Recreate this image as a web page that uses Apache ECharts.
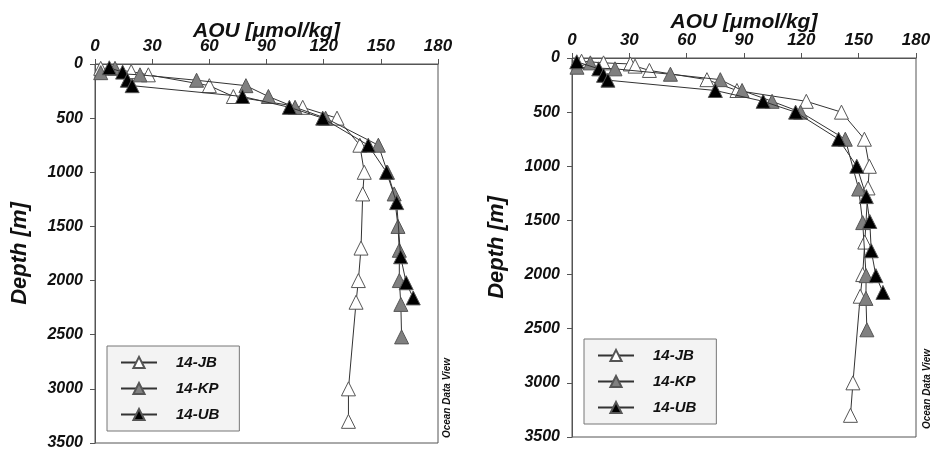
<!DOCTYPE html>
<html>
<head>
<meta charset="utf-8">
<script src="https://cdn.jsdelivr.net/npm/echarts@6/dist/echarts.min.js"></script>
<style>
  html, body { margin: 0; padding: 0; background: #fff; }
  #chart { width: 934px; height: 452px; }
</style>
</head>
<body>
<div id="chart"></div>
<script>
// ---- Data: [AOU, depth] ----
const seriesNames = ['14-JB', '14-KP', '14-UB'];
const xTicks = [0, 30, 60, 90, 120, 150, 180];
const yTicks = [0, 500, 1000, 1500, 2000, 2500, 3000, 3500];

const leftJB = [[3,40],[19,70],[28,100],[60,200],[72.6,300],[109,400],[127,500],[139,750],[141.3,1000],[140.5,1200],[139.6,1700],[138.2,2000],[137,2200],[133,3000],[133,3300]];
const leftKP = [[10.5,40],[3,80],[23.6,100],[53.3,150],[79.2,200],[91,300],[105,400],[121,500],[148.7,750],[153.5,1000],[157,1200],[159,1500],[159.7,1720],[159.7,2000],[160.5,2220],[160.9,2520]];
const leftUB = [[7.5,35],[14.5,75],[17,150],[19.5,200],[77.4,300],[102,400],[119.5,500],[143.4,750],[153,1000],[158.3,1280],[160.4,1780],[163.3,2020],[167,2160]];

const rightJB = [[5,30],[16.5,45],[30.5,55],[33,75],[40.5,115],[70.6,200],[86.3,300],[122.6,400],[141,500],[153,750],[155.6,1000],[154.9,1200],[153.2,1700],[152.1,2000],[150.8,2200],[147,3000],[145.7,3300]];
const rightKP = [[9.6,45],[2.6,85],[22.5,100],[51.5,150],[77.6,200],[89,300],[104.7,400],[119.6,500],[143,750],[150,1210],[152.1,1520],[153.9,2010],[153.8,2220],[154.3,2510]];
const rightUB = [[2.5,35],[14,100],[16.5,160],[18.8,205],[75,300],[100,400],[117,500],[139.5,750],[149,1000],[154,1280],[155.8,1510],[156.6,1780],[159,2010],[162.7,2165]];

const leftData = [leftJB, leftKP, leftUB];
const rightData = [rightJB, rightKP, rightUB];

const fills = ['#ffffff', '#808080', '#000000'];
const FONT = '"Liberation Sans", Arial, sans-serif';

function mkX(gridIndex, nameGap) {
  return {
    type: 'value', gridIndex, position: 'top', min: xTicks[0], max: xTicks[xTicks.length-1], interval: 30,
    name: 'AOU [μmol/kg]', nameLocation: 'middle', nameGap, nameMoveOverlap: false,
    nameTextStyle: { fontFamily: FONT, fontSize: 21, fontWeight: 'bold', fontStyle: 'italic', color: '#111' },
    axisLine: { show: true, lineStyle: { color: '#555', width: 1 } },
    axisTick: { show: true, inside: false, length: 5, lineStyle: { color: '#555' } },
    axisLabel: { fontFamily: FONT, fontSize: 17, fontWeight: 'bold', fontStyle: 'italic', color: '#111', margin: 9,
      formatter: v => String(v) },
    splitLine: { show: false }
  };
}
function mkY(gridIndex, nameGap) {
  return {
    type: 'value', gridIndex, inverse: true, min: yTicks[0], max: yTicks[yTicks.length-1], interval: 500,
    name: 'Depth [m]', nameLocation: 'middle', nameGap, nameMoveOverlap: false,
    nameTextStyle: { fontFamily: FONT, fontSize: 22, fontWeight: 'bold', fontStyle: 'italic', color: '#111' },
    axisLine: { show: true, lineStyle: { color: '#555', width: 1 } },
    axisTick: { show: true, inside: false, length: 5, lineStyle: { color: '#555' } },
    axisLabel: { fontFamily: FONT, fontSize: 16, fontWeight: 'bold', fontStyle: 'italic', color: '#111', margin: 12,
      formatter: v => String(v) },
    splitLine: { show: false }
  };
}
function mkSeries(data, idx) {
  return data.map((d, i) => ({
    name: seriesNames[i], type: 'line', xAxisIndex: idx, yAxisIndex: idx,
    data: d, symbol: 'triangle', symbolSize: 14, showSymbol: true,
    lineStyle: { color: '#333', width: 1 },
    itemStyle: { color: fills[i], borderColor: '#555', borderWidth: 1 },
    z: 2 + i, animation: false
  }));
}
function mkLegend(left, top) {
  return {
    left, top, orient: 'vertical', data: seriesNames,
    itemWidth: 36, itemHeight: 14, itemGap: 11,
    padding: [9, 20, 9, 13],
    backgroundColor: '#f3f3f3', borderColor: '#777', borderWidth: 1, borderRadius: 0,
    textStyle: { fontFamily: FONT, fontSize: 15, fontWeight: 'bold', fontStyle: 'italic', color: '#111', padding: [0, 0, 0, 14] },
    selectedMode: false
  };
}

const chart = echarts.init(document.getElementById('chart'), null, { renderer: 'canvas' });
chart.setOption({
  animation: false,
  backgroundColor: '#fff',
  grid: [
    { left: 95, top: 64, width: 343, height: 379, show: true, borderColor: '#555', borderWidth: 1, backgroundColor: 'transparent' },
    { left: 572, top: 58, width: 344, height: 379, show: true, borderColor: '#555', borderWidth: 1, backgroundColor: 'transparent' }
  ],
  xAxis: [mkX(0, 22), mkX(1, 25)],
  yAxis: [mkY(0, 64), mkY(1, 64)],
  legend: [mkLegend(107, 346), mkLegend(584, 339)],
  series: mkSeries(leftData, 0).concat(mkSeries(rightData, 1)),
  graphic: [
    { type: 'text', x: 447, y: 398, rotation: Math.PI / 2,
      style: { text: 'Ocean Data View', fontFamily: FONT, fontSize: 10, fontWeight: 'bold', fontStyle: 'italic', fill: '#111', align: 'center', verticalAlign: 'middle' } },
    { type: 'text', x: 927, y: 389, rotation: Math.PI / 2,
      style: { text: 'Ocean Data View', fontFamily: FONT, fontSize: 10, fontWeight: 'bold', fontStyle: 'italic', fill: '#111', align: 'center', verticalAlign: 'middle' } }
  ]
});
</script>
</body>
</html>
